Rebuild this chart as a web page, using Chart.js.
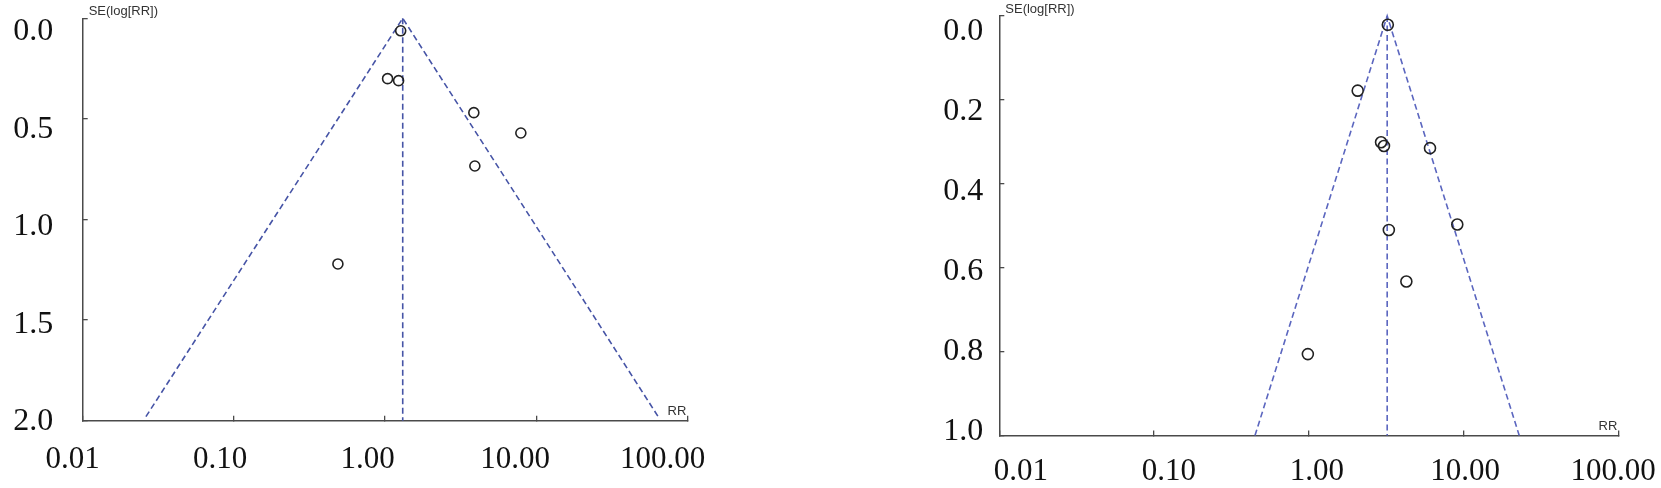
<!DOCTYPE html>
<html>
<head>
<meta charset="utf-8">
<script src="https://cdn.jsdelivr.net/npm/chart.js@4.4.1/dist/chart.umd.min.js"></script>
<style>
  html,body{margin:0;padding:0;background:#fff;}
  #wrap{position:relative;width:1661px;height:488px;overflow:hidden;}
  canvas{position:absolute;top:0;}
</style>
</head>
<body>
<div id="wrap">
  <canvas id="leftPlot" width="760" height="488" style="left:0px"></canvas>
  <canvas id="rightPlot" width="830" height="488" style="left:831px"></canvas>
</div>
<script>
// study estimates (RR) and their standard errors
const leftRR = [1.27, 1.04, 1.23, 3.87, 7.92, 3.93, 0.488];
const leftSE = [0.062, 0.30, 0.31, 0.469, 0.570, 0.734, 1.221];
const leftPooled = 1.31;
const leftFunnelRR = [0.0262, 1.31, 64.2];
const leftFunnelSE = [1.98, 0, 1.98];

const rightRR = [3.24, 2.07, 2.93, 3.06, 6.07, 9.11, 3.29, 4.27, 0.986];
const rightSE = [0.021, 0.178, 0.301, 0.310, 0.315, 0.497, 0.510, 0.633, 0.806];
const rightPooled = 3.21;
const rightFunnelRR = [0.449, 3.21, 22.9];
const rightFunnelSE = [1.0, 0, 1.0];

// axis ticks
const xTicks = [0.01, 0.1, 1, 10, 100];
const xTickLabels = ['0.01', '0.10', '1.00', '10.00', '100.00'];
const leftYTicks = [0, 0.5, 1, 1.5, 2];
const leftYLabels = ['0.0', '0.5', '1.0', '1.5', '2.0'];
const rightYTicks = [0, 0.2, 0.4, 0.6, 0.8, 1];
const rightYLabels = ['0.0', '0.2', '0.4', '0.6', '0.8', '1.0'];

const yTitle = 'SE(log[RR])';
const xTitle = 'RR';

// small captions at the ends of the axes
const captions = {
  id: 'captions',
  afterDraw(chart) {
    const a = chart.chartArea, ctx = chart.ctx;
    ctx.save();
    ctx.font = '13px "Liberation Sans", Arial, sans-serif';
    ctx.fillStyle = '#333';
    ctx.textBaseline = 'middle';
    ctx.textAlign = 'left';
    ctx.fillText(yTitle, a.left + 6, a.top - 6.5);
    ctx.textAlign = 'right';
    ctx.fillText(xTitle, a.right - 1, a.bottom - 9.5);
    ctx.restore();
  }
};

function fixTicks(vals) {
  return axis => { axis.ticks = vals.map(v => ({value: v})); };
}

// keep chart.js from reserving room for overflowing tick labels
function noPad(s) {
  s.paddingTop = 0; s.paddingBottom = 0; s.paddingLeft = 0; s.paddingRight = 0;
}

function funnel(id, o) {
  const pts = o.rr.map((r, i) => ({x: r, y: o.se[i]}));
  const cone = o.coneRR.map((r, i) => ({x: r, y: o.coneSE[i]}));
  const mid = [{x: o.pooled, y: 0}, {x: o.pooled, y: o.ymax}];
  const axisCol = '#4a4a4a';
  const serif = '"Liberation Serif", "Times New Roman", serif';
  new Chart(document.getElementById(id), {
    type: 'scatter',
    data: {datasets: [
      {data: pts, pointRadius: o.r, pointBorderWidth: 1.6, pointBorderColor: '#222',
       pointBackgroundColor: 'rgba(0,0,0,0)', showLine: false},
      {data: cone, showLine: true, pointRadius: 0, borderColor: o.lineCol, borderWidth: 1.6,
       borderDash: [6, 3.5], fill: false, clip: false},
      {data: mid, showLine: true, pointRadius: 0, borderColor: o.lineCol, borderWidth: 1.6,
       borderDash: [6, 3.5], fill: false, clip: false}
    ]},
    options: {
      responsive: false, animation: false, devicePixelRatio: 1,
      layout: {padding: {top: o.padTop, right: o.padRight, left: 0, bottom: 0}},
      plugins: {legend: {display: false}, tooltip: {enabled: false}},
      scales: {
        x: {type: 'logarithmic', position: 'bottom', min: 0.01, max: 100, bounds: 'data', weight: 0,
            afterBuildTicks: fixTicks(xTicks),
            afterFit: s => { s.height = 0; noPad(s); },
            ticks: {display: false},
            grid: {drawOnChartArea: false, tickLength: -5, color: axisCol, lineWidth: 1.3},
            border: {color: axisCol, width: 1.5}},
        xl: {type: 'logarithmic', position: 'bottom', min: o.xlMin, max: o.xlMax, bounds: 'data', weight: 1,
             afterBuildTicks: fixTicks(xTicks),
             afterFit: s => { s.height = o.xlHeight; noPad(s); },
             ticks: {autoSkip: false, maxRotation: 0, minRotation: 0, padding: o.xlPad, color: '#111',
                     font: {family: serif, size: 31},
                     callback: (v, i) => xTickLabels[i]},
             grid: {display: false, drawTicks: false}, border: {display: false}},
        y: {type: 'linear', position: 'left', reverse: true, min: 0, max: o.ymax, bounds: 'data', weight: 0,
            afterBuildTicks: fixTicks(o.yTicks),
            afterFit: s => { s.width = 0; noPad(s); },
            ticks: {display: false},
            grid: {drawOnChartArea: false, tickLength: -5, color: axisCol, lineWidth: 1.3},
            border: {color: axisCol, width: 1.5}},
        yl: {type: 'linear', position: 'left', reverse: true, min: o.ylMin, max: o.ylMax, bounds: 'data', weight: 1,
             afterBuildTicks: fixTicks(o.yTicks),
             afterFit: s => { s.width = o.ylWidth; noPad(s); },
             ticks: {autoSkip: false, padding: o.ylPad, color: '#111',
                     font: {family: serif, size: 32},
                     callback: (v, i) => o.yLabels[i]},
             grid: {display: false, drawTicks: false}, border: {display: false}}
      }
    },
    plugins: [captions]
  });
}

funnel('leftPlot', {
  rr: leftRR, se: leftSE, pooled: leftPooled, coneRR: leftFunnelRR, coneSE: leftFunnelSE,
  ymax: 2, yTicks: leftYTicks, yLabels: leftYLabels, r: 5, lineCol: '#4654a6',
  padTop: 18.3, padRight: 72.7,
  xlMin: 0.01172, xlMax: 147.2, xlHeight: 67.3, xlPad: 20.7,
  ylMin: -0.0703, ylMax: 1.9933, ylWidth: 82.7, ylPad: 29.4
});

funnel('rightPlot', {
  rr: rightRR, se: rightSE, pooled: rightPooled, coneRR: rightFunnelRR, coneSE: rightFunnelSE,
  ymax: 1, yTicks: rightYTicks, yLabels: rightYLabels, r: 5.5, lineCol: '#5b66bf',
  padTop: 16, padRight: 42.7,
  xlMin: 0.00716, xlMax: 108.4, xlHeight: 52.5, xlPad: 17.6,
  ylMin: -0.0392, ylMax: 1.0088, ylWidth: 168.3, ylPad: 16
});
</script>
</body>
</html>
